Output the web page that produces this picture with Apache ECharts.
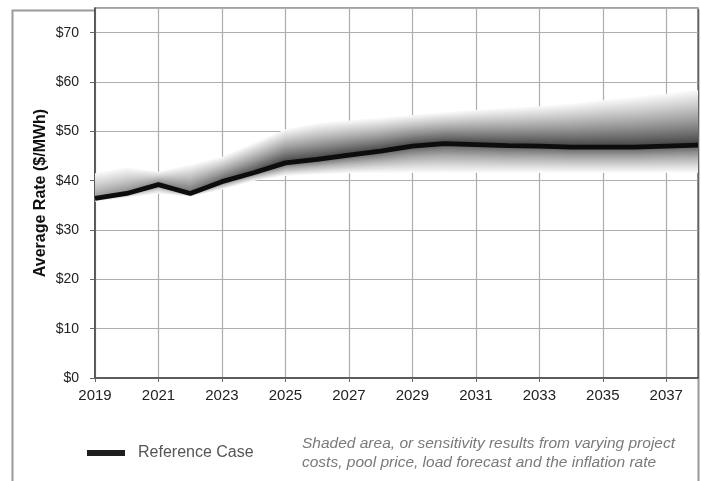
<!DOCTYPE html>
<html>
<head>
<meta charset="utf-8">
<script src="https://cdn.jsdelivr.net/npm/echarts@6/dist/echarts.min.js"></script>
<style>
html,body{margin:0;padding:0;background:#fff;}
#chart{width:701px;height:481px;}
</style>
</head>
<body>
<div id="chart"></div>
<script>
// ---- data ----
var years = ['2019','2020','2021','2022','2023','2024','2025','2026','2027','2028','2029','2030','2031','2032','2033','2034','2035','2036','2037','2038'];
var referenceCase = [36.4, 37.4, 39.2, 37.4, 39.8, 41.6, 43.6, 44.3, 45.2, 46.0, 47.0, 47.5, 47.3, 47.1, 47.0, 46.8, 46.8, 46.8, 47.0, 47.2];
var sensitivityHigh = [41.5, 42.6, 41.8, 43.2, 44.8, 47.6, 50.4, 51.6, 52.2, 52.7, 53.3, 53.8, 54.3, 54.7, 55.1, 55.6, 56.3, 56.9, 57.6, 58.4];
var sensitivityLow = [35.8, 36.6, 37.4, 36.8, 38.2, 40.0, 41.0, 41.3, 41.5, 41.6, 41.6, 41.6, 41.6, 41.6, 41.6, 41.6, 41.6, 41.6, 41.6, 41.6];
var yTicks = [0, 10, 20, 30, 40, 50, 60, 70];
var legendName = 'Reference Case';
var noteText = 'Shaded area, or sensitivity results from varying project\ncosts, pool price, load forecast and the inflation rate';

var FONT = '"Liberation Sans", Arial, sans-serif';

function gray(v){ v = Math.round(Math.max(0, Math.min(255, v))); return 'rgb(' + v + ',' + v + ',' + v + ')'; }

function shadeFill(t, darkRight, darkLeft, edge, pow){
  var k = Math.pow(t, pow);
  var cR = gray(darkRight + (edge - darkRight) * k);
  var cL = gray(darkLeft + (edge - darkLeft) * k);
  return new echarts.graphic.LinearGradient(0, 0, 1, 0, [
    {offset: 0, color: cL},
    {offset: 0.3, color: cR},
    {offset: 1, color: cR}
  ]);
}

function renderBand(params, api){
  var N = 40;
  var children = [];
  var n = years.length;
  var mid = [], hi = [], lo = [];
  for (var i = 0; i < n; i++) {
    mid.push(api.coord([i, referenceCase[i]]));
    hi.push(api.coord([i, sensitivityHigh[i]]));
    lo.push(api.coord([i, sensitivityLow[i]]));
  }
  function layer(edgePts, f, fill){
    var pts = [];
    for (var i = 0; i < n; i++) pts.push([mid[i][0], mid[i][1] + (edgePts[i][1] - mid[i][1]) * f]);
    for (var j = n - 1; j >= 0; j--) pts.push([mid[j][0], mid[j][1]]);
    children.push({type: 'polygon', shape: {points: pts}, style: {fill: fill}, silent: true});
  }
  for (var k = N; k >= 1; k--) {
    var f = k / N;
    layer(hi, f, shadeFill(f, 55, 145, 248, 0.85));
  }
  for (var k2 = N; k2 >= 1; k2--) {
    var f2 = k2 / N;
    layer(lo, f2, shadeFill(f2, 70, 150, 250, 0.7));
  }
  return {type: 'group', children: children};
}

var chart = echarts.init(document.getElementById('chart'), null, {renderer: 'canvas'});
chart.setOption({
  animation: false,
  backgroundColor: '#fff',
  textStyle: {fontFamily: FONT},
  graphic: [{
    type: 'rect', z: -10, silent: true,
    shape: {x: 12.5, y: 10.5, width: 686, height: 490},
    style: {fill: 'none', stroke: '#9a9a9a', lineWidth: 2}
  }, {
    type: 'text', left: 302, top: 434, silent: true,
    style: {text: noteText, font: 'italic 15.5px ' + FONT, fill: '#7a7a7a', lineHeight: 19}
  }],
  grid: {left: 95, right: 3, top: 8, bottom: 103, show: true, backgroundColor: '#fff', borderColor: '#444', borderWidth: 1.2},
  legend: {
    left: 87, top: 445, padding: 0,
    itemWidth: 38, itemHeight: 6, itemGap: 10,
    data: [{name: legendName, icon: 'rect'}],
    textStyle: {fontSize: 16, color: '#555', fontFamily: FONT, padding: [0, 0, 0, 8]}
  },
  xAxis: {
    type: 'category', data: years, boundaryGap: false,
    axisLine: {lineStyle: {color: '#444', width: 1.5}},
    axisTick: {interval: 1, length: 4, lineStyle: {color: '#666'}},
    axisLabel: {interval: 1, fontSize: 15, color: '#222', margin: 10, fontFamily: FONT},
    splitLine: {show: true, interval: 1, lineStyle: {color: '#adadad', width: 1.2}}
  },
  yAxis: {
    type: 'value', min: 0, max: 75, interval: 10,
    name: 'Average Rate ($/MWh)', nameLocation: 'middle', nameGap: 46, nameRotate: 90,
    nameMoveOverlap: false,
    nameTextStyle: {fontSize: 16, fontWeight: 'bold', color: '#111', fontFamily: FONT},
    axisLine: {show: true, lineStyle: {color: '#444', width: 1.5}},
    axisTick: {show: true, length: 5, lineStyle: {color: '#666'}},
    axisLabel: {fontSize: 14, color: '#222', margin: 16, fontFamily: FONT, showMaxLabel: false,
      formatter: function(v){ return yTicks.indexOf(v) >= 0 ? '$' + v : ''; }},
    splitLine: {lineStyle: {color: '#adadad', width: 1.2}}
  },
  series: [{
    type: 'custom', name: 'Sensitivity', coordinateSystem: 'cartesian2d',
    data: [[0, referenceCase[0]]], renderItem: renderBand, silent: true, z: 2, clip: true
  }, {
    type: 'line', name: legendName, data: referenceCase, symbol: 'none', z: 3,
    lineStyle: {color: '#0d0d0d', width: 4.8}, itemStyle: {color: '#1e1e1e'}
  }]
});
</script>
</body>
</html>
